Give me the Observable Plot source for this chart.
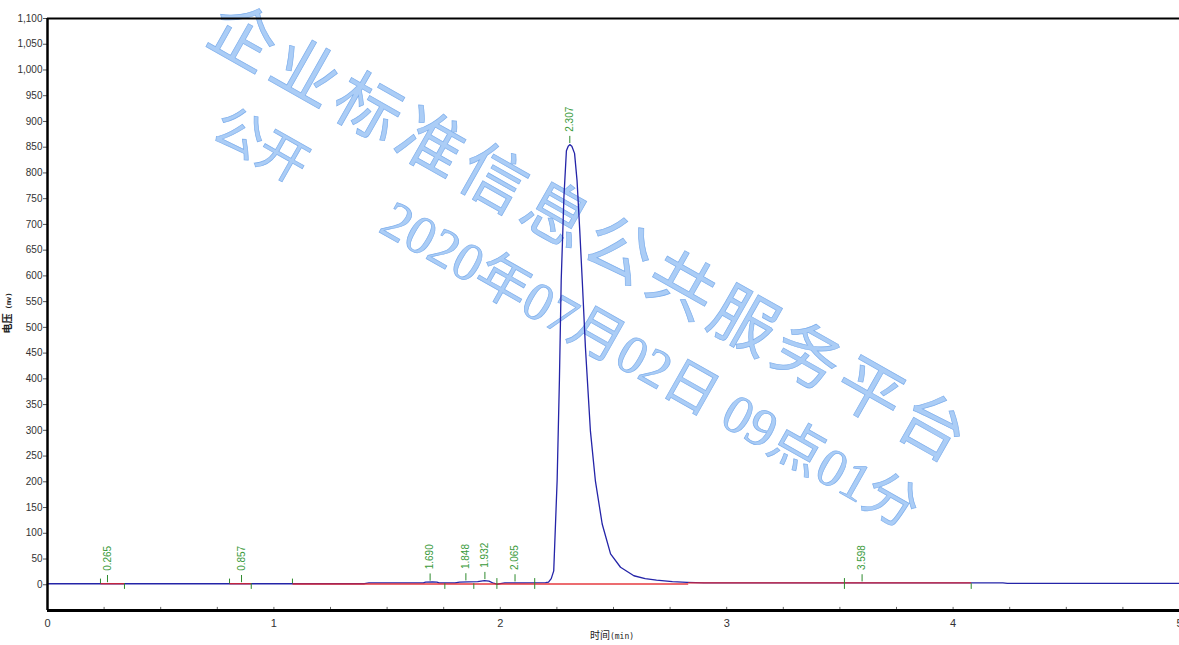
<!DOCTYPE html>
<html>
<head>
<meta charset="utf-8">
<script src="https://cdn.jsdelivr.net/npm/d3@7"></script>
<script src="https://cdn.jsdelivr.net/npm/@observablehq/plot@0.6"></script>
<style>
  html, body { margin: 0; padding: 0; background: #fff; overflow: hidden; }
  #chart svg { display: block; }
</style>
</head>
<body>
<div id="chart"></div>
<script>
// ---- chromatogram trace (time in min, signal in mV) ----
const time = [0, 1.40, 1.42, 1.66, 1.67, 1.70, 1.72, 1.73, 1.80, 1.82, 1.86, 1.90, 1.93, 1.95, 1.97, 1.985, 2.00, 2.02, 2.10, 2.20,
  2.213, 2.225, 2.236, 2.251, 2.261, 2.269, 2.281, 2.292, 2.300, 2.307, 2.316, 2.328, 2.339, 2.351, 2.362, 2.376, 2.398, 2.42,
  2.45, 2.487, 2.531, 2.59, 2.64, 2.69, 2.76, 2.825, 2.90, 3.00, 4.22, 4.24, 5.0];
const voltage = [2, 2, 3.5, 3.5, 5, 5.5, 5, 3.5, 3.5, 5, 5.5, 6, 8, 7, 3, 1, 2, 3.5, 3.5, 4,
  5, 12, 27, 202, 396, 591, 753, 843, 852, 855, 852, 838, 785, 688, 591, 461, 299, 202,
  118, 60, 34, 17.5, 12, 9, 6, 4.5, 3.5, 3.5, 3.5, 2.5, 2.5];

// ---- detected peaks ----
const peakTimes = [0.265, 0.857, 1.690, 1.848, 1.932, 2.065, 2.307, 3.598];
const peakLabels = ["0.265", "0.857", "1.690", "1.848", "1.932", "2.065", "2.307", "3.598"];
const peakHeights = [2, 2, 5, 5.5, 8, 3.5, 855, 3.5];

// ---- integration baselines ----
const baseStart = [0.234, 0.804, 1.082, 2.83];
const baseEnd = [0.34, 0.90, 2.83, 4.08];
const baseLevel = [2, 2, 1.5, 3.5];

// ---- peak start / end markers ----
const markUp = [0.234, 0.804, 1.082];
const markDown = [0.34, 0.90, 1.755, 1.883, 4.08];
const markCross = [1.985, 2.152, 3.52];
const markLevel = 2;

// ---- axes ----
const xTickLabels = [0, 1, 2, 3, 4, 5];
const xMinorTicks = d3.range(0, 5.001, 0.25);
const yTickValues = d3.range(0, 1101, 50);

const trace = time.map((t, i) => ({t, v: voltage[i]}));
const peaks = peakTimes.map((t, i) => ({t, v: peakHeights[i], label: peakLabels[i]}));
const baselines = baseStart.map((s, i) => ({x1: s, x2: baseEnd[i], y: baseLevel[i]}));

const green = "#2e8b2e";
const font = "'Liberation Sans', Arial, sans-serif";
const comma = d3.format(",");

const chart = Plot.plot({
  width: 1179,
  height: 645,
  marginTop: 18,
  marginRight: 0,
  marginBottom: 35,
  marginLeft: 47,
  style: {fontFamily: font, fontSize: "10px", color: "#333", background: "transparent", overflow: "visible"},
  x: {domain: [0, 5]},
  y: {domain: [-50, 1100]},
  marks: [
    Plot.axisY({ticks: yTickValues, tickFormat: d => comma(d), tickSize: 4, tickPadding: 1, label: null, fontSize: 10, stroke: "#555"}),
    Plot.axisX({ticks: xTickLabels, tickFormat: d => String(d), tickSize: 0, tickPadding: 9, label: null, fontSize: 11}),
    Plot.ruleX(xMinorTicks, {x: d => d, y1: -50, y2: -44, stroke: "#666", strokeWidth: 1}),
    // trace
    Plot.line(trace, {x: "t", y: "v", stroke: "#2424a8", strokeWidth: 1.3}),
    // integration baselines
    Plot.link(baselines, {x1: "x1", x2: "x2", y1: "y", y2: "y", stroke: "#e3262b", strokeWidth: 1.3, strokeOpacity: 0.9}),
    // start/end markers
    Plot.ruleX(markUp, {x: d => d, y1: markLevel, y2: markLevel + 9, stroke: green, strokeWidth: 1}),
    Plot.ruleX(markDown, {x: d => d, y1: markLevel, y2: markLevel - 11, stroke: green, strokeWidth: 1}),
    Plot.ruleX(markCross, {x: d => d, y1: markLevel - 11, y2: markLevel + 10, stroke: green, strokeWidth: 1}),
    // apex markers + labels
    Plot.ruleX(peaks, {x: "t", y1: d => d.v + 2, y2: d => d.v + 16, stroke: green, strokeWidth: 1}),
    Plot.text(peaks, {x: "t", y: d => d.v + 25, text: "label", rotate: -90, textAnchor: "start", fill: "#3a9a3a", fontSize: 10, fontFamily: font}),
    // frame
    Plot.ruleY([1100], {stroke: "#000", strokeWidth: 2}),
    Plot.ruleY([-50], {stroke: "#000", strokeWidth: 3}),
    Plot.ruleX([0], {stroke: "#000", strokeWidth: 2.5})
  ]
});

document.getElementById("chart").appendChild(chart);

const svg = d3.select(chart);

// axis titles
const yl = svg.append("text")
  .attr("transform", "translate(11,313) rotate(-90)")
  .attr("text-anchor", "middle")
  .attr("fill", "#222")
  .attr("font-family", "'Noto Sans CJK SC', sans-serif");
yl.append("tspan").attr("font-size", 10).attr("font-weight", "bold").text("电压");
yl.append("tspan").attr("font-size", 7).attr("font-weight", "bold").attr("font-family", "'DejaVu Sans Mono', monospace").text(" (mv)");

const xl = svg.append("text")
  .attr("x", 612).attr("y", 639)
  .attr("text-anchor", "middle")
  .attr("fill", "#222")
  .attr("font-family", "'Noto Sans CJK SC', sans-serif");
xl.append("tspan").attr("font-size", 10).text("时间");
xl.append("tspan").attr("font-size", 8).attr("font-family", "'DejaVu Sans Mono', monospace").text("(min)");

// watermark
const wm = svg.insert("g", ":first-child").attr("pointer-events", "none").attr("text-anchor", "start");
svg.insert("rect", ":first-child").attr("width", 1179).attr("height", 645).attr("fill", "#fff");
function wmText(str, x, y, size, spacing) {
  wm.append("text")
    .attr("x", x).attr("y", y)
    .attr("text-anchor", "start")
    .attr("transform", `rotate(29.5 ${x} ${y})`)
    .attr("font-size", size)
    .attr("letter-spacing", spacing)
    .attr("fill", "#abcdf6")
    .attr("stroke", "#80b0ec")
    .attr("stroke-width", 0.7)
    .attr("font-family", "'Liberation Serif', 'Noto Sans CJK SC', serif")
    .text(str);
}
wmText("企业标准信息公共服务平台", 203, 41, 66, 6);
wmText("公开", 209, 136, 50, 0);
wmText("2020年07月02日 09点01分", 377, 231, 54, 0);
</script>
</body>
</html>
